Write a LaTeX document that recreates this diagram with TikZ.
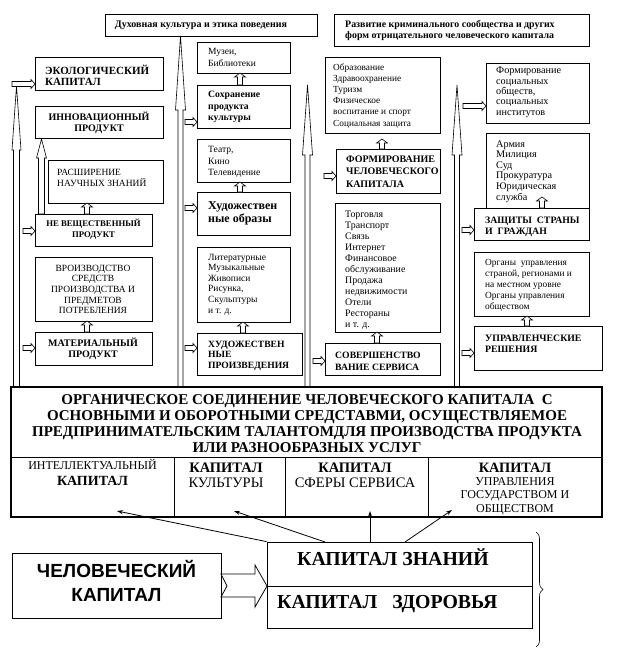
\documentclass[tikz,border=0pt]{standalone}
\usepackage{fontspec}
\setmainfont{Liberation Serif}
\newfontfamily\arialf{Liberation Sans}
\usetikzlibrary{fit,arrows.meta,decorations.pathreplacing}
\newcommand\fs[2]{\fontsize{#1}{#2}\selectfont}
\newcommand\mlL[1]{\begin{tabular}[t]{@{}l@{}}#1\end{tabular}}
\newcommand\mlC[1]{\begin{tabular}[t]{@{}c@{}}#1\end{tabular}}
% long hollow up arrow: cx, tip y, head base y, bottom y, head half width, shaft half width
\newcommand\longup[6]{\draw[blk] (#1,#2) -- ({#1+#5},#3) -- ({#1+#6},#3) -- ({#1+#6},#4) -- ({#1-#6},#4) -- ({#1-#6},#3) -- ({#1-#5},#3) -- cycle;}
% small up arrow: cx, bottom y, top y
\newcommand\upar[3]{\draw[blk] (#1,#3) -- ({#1+5.5},{#3+4}) -- ({#1+2.5},{#3+4}) -- ({#1+2.5},#2) -- ({#1-2.5},#2) -- ({#1-2.5},{#3+4}) -- ({#1-5.5},{#3+4}) -- cycle;}
% small right arrow: x tail, x tip, cy
\newcommand\rar[3]{\draw[blk] (#2,#3) -- ({#2-4},{#3-4.5}) -- ({#2-4},{#3-2.5}) -- (#1,{#3-2.5}) -- (#1,{#3+2.5}) -- ({#2-4},{#3+2.5}) -- ({#2-4},{#3+4.5}) -- cycle;}
\newcommand\bx[5]{\node[frame, fit={(#2,#3) (#4,#5)}] (#1) {};}
\begin{document}
\begin{tikzpicture}[x=1pt,y=-1pt,
  frame/.style={draw, line width=0.7pt, inner sep=0pt},
  blk/.style={draw, line width=0.6pt, fill=white, line join=miter},
  txl/.style={anchor=base west, inner sep=0pt},
  txc/.style={anchor=base, inner sep=0pt},
  con/.style={line width=0.8pt, -{Stealth[length=6pt,width=4pt]}},
]
\useasboundingbox (0,0) rectangle (627,650);
\fill[white] (0,0) rectangle (627,650);

% long block arrows
\longup{16.5}{86}{150}{387}{4.5}{3}
\longup{41.5}{139}{158}{214}{5}{3}
\longup{180.5}{36}{110}{387}{5}{2.5}
\longup{307.5}{85}{155}{387}{5}{2.5}
\longup{457}{85}{155}{387}{5}{2.5}

% top boxes
\bx{duh}{105}{14}{317}{36}
\bx{razv}{334}{14}{589}{46}
% left column
\bx{eco}{35}{57}{163}{90}
\bx{inno}{35}{106}{163}{138}
\bx{rasch}{48}{160}{163}{203}
\bx{nevesh}{35}{214}{152}{246}
\bx{proizv}{35}{257}{152}{321}
\bx{mater}{35}{332}{152}{365}
% second column
\bx{muzei}{197}{42}{290}{73}
\bx{sohr}{197}{85}{290}{128}
\bx{teatr}{197}{139}{290}{182}
\bx{hudobr}{197}{192}{290}{235}
\bx{lit}{197}{247}{290}{322}
\bx{hudpr}{197}{333}{302}{375}
% third column
\bx{obraz}{325}{57}{440}{133}
\bx{form}{336}{149}{440}{193}
\bx{torg}{335}{203}{440}{332}
\bx{sover}{325}{343}{440}{375}
% fourth column
\bx{soc}{486}{63}{589}{123}
\bx{armia}{486}{133}{589}{208}
\bx{zasch}{474}{208}{589}{240}
\bx{organy}{474}{252}{589}{316}
\bx{uprav}{474}{326}{602}{370}

% big box
\node[frame, line width=0.8pt, fit={(11,387) (602,457)}] (hdr) {};
\node[frame, line width=0.8pt, fit={(11,457) (174,517)}] (cell1) {};
\node[frame, line width=0.8pt, fit={(174,457) (285,517)}] (cell2) {};
\node[frame, line width=0.8pt, fit={(285,457) (428,517)}] (cell3) {};
\node[frame, line width=0.8pt, fit={(428,457) (602,517)}] (cell4) {};
\node[draw, line width=1.4pt, inner sep=0pt, fit={(11,387) (602,517)}] (big) {};

% texts: top
\node[txc, font=\fs{10}{11}\bfseries] (duhT) at (201,28) {Духовная культура и этика поведения};
\node[txl, font=\fs{9.9}{11}\bfseries] (razvT) at (345,28) {\mlL{Развитие криминального сообщества и других\\форм отрицательного человеческого капитала}};
% left column texts
\node[txl, font=\fs{11}{11}\bfseries] (ecoT) at (45,75) {\mlL{ЭКОЛОГИЧЕСКИЙ\\КАПИТАЛ}};
\node[txc, font=\fs{10}{11}\bfseries] (innoT) at (99,121) {\mlC{ИННОВАЦИОННЫЙ\\ПРОДУКТ}};
\node[txl, font=\fs{9.5}{11}] (raschT) at (57,175) {\mlL{РАСШИРЕНИЕ\\НАУЧНЫХ ЗНАНИЙ}};
\node[txc, font=\fs{8.7}{11}\bfseries] (neveshT) at (93.5,226) {\mlC{НЕ ВЕЩЕСТВЕННЫЙ\\ПРОДУКТ}};
\node[txc, font=\fs{9.5}{10.7}] (proizvT) at (93,271) {\mlC{ВРОИЗВОДСТВО\\СРЕДСТВ\\ПРОИЗВОДСТВА И\\ПРЕДМЕТОВ\\ПОТРЕБЛЕНИЯ}};
\node[txc, font=\fs{10}{11}\bfseries] (materT) at (93,346) {\mlC{МАТЕРИАЛЬНЫЙ\\ПРОДУКТ}};
% second column texts
\node[txl, font=\fs{9.5}{12}] (muzeiT) at (208,55) {\mlL{Музеи,\\Библиотеки}};
\node[txl, font=\fs{9.7}{11.5}\bfseries] (sohrT) at (208,98) {\mlL{Сохранение\\продукта\\культуры}};
\node[txl, font=\fs{9.6}{12}] (teatrT) at (208,152) {\mlL{Театр,\\Кино\\Телевидение}};
\node[txl, font=\fs{12}{13}\bfseries] (hudobrT) at (208,209) {\mlL{Художествен\\ные образы}};
\node[txl, font=\fs{9.5}{10.6}] (litT) at (208,260) {\mlL{Литературные\\Музыкальные\\Живописи\\Рисунка,\\Скульптуры\\и т. д.}};
\node[txl, font=\fs{9.6}{10.7}\bfseries] (hudprT) at (208,347) {\mlL{ХУДОЖЕСТВЕН\\НЫЕ\\ПРОИЗВЕДЕНИЯ}};
% third column texts
\node[txl, font=\fs{9.3}{11}] (obrazT) at (333,71) {\mlL{Образование\\Здравоохранение\\Туризм\\Физическое\\воспитание и спорт\\Социальная защита}};
\node[txl, font=\fs{10}{12.5}\bfseries] (formT) at (346,162) {\mlL{ФОРМИРОВАНИЕ\\ЧЕЛОВЕЧЕСКОГО\\КАПИТАЛА}};
\node[txl, font=\fs{9.9}{11}] (torgT) at (345,217) {\mlL{Торговля\\Транспорт\\Связь\\Интернет\\Финансовое\\обслуживание\\Продажа\\недвижимости\\Отели\\Рестораны\\и т. д.}};
\node[txl, font=\fs{9.7}{12}\bfseries] (soverT) at (335,358) {\mlL{СОВЕРШЕНСТВО\\ВАНИЕ СЕРВИСА}};
% fourth column texts
\node[txl, font=\fs{10.2}{10.3}] (socT) at (496,74) {\mlL{Формирование\\социальных\\обществ,\\социальных\\институтов}};
\node[txl, font=\fs{10.2}{10.6}] (armT) at (496,147) {\mlL{Армия\\Милиция\\Суд\\Прокуратура\\Юридическая\\служба}};
\node[txl, font=\fs{9.8}{11}\bfseries] (zaschT) at (485,223) {\mlL{ЗАЩИТЫ\ \ СТРАНЫ\\И\ \ ГРАЖДАН}};
\node[txl, font=\fs{9.4}{11}] (organyT) at (485,265) {\mlL{Органы\ \ управления\\страной, регионами и\\на местном уровне\\Органы управления\\обществом}};
\node[txl, font=\fs{9.8}{11}\bfseries] (upravT) at (485,341) {\mlL{УПРАВЛЕНЧЕСКИЕ\\РЕШЕНИЯ}};

% header texts
\node[txc, font=\fs{15}{16.2}\bfseries] (hdrT) at (307,404) {\mlC{ОРГАНИЧЕСКОЕ СОЕДИНЕНИЕ ЧЕЛОВЕЧЕСКОГО КАПИТАЛА\ \ С\\ОСНОВНЫМИ И ОБОРОТНЫМИ СРЕДСТАВМИ, ОСУЩЕСТВЛЯЕМОЕ\\ПРЕДПРИНИМАТЕЛЬСКИМ ТАЛАНТОМДЛЯ ПРОИЗВОДСТВА ПРОДУКТА\\ИЛИ РАЗНООБРАЗНЫХ УСЛУГ\hspace{34pt}}};
\node[txc, font=\fs{12}{16}] (c1T) at (92.5,469) {\mlC{ИНТЕЛЛЕКТУАЛЬНЫЙ\\\textbf{\fs{14}{16}КАПИТАЛ}}};
\node[txc, font=\fs{14.5}{15}] (c2T) at (226,472) {\mlC{\textbf{КАПИТАЛ}\\КУЛЬТУРЫ}};
\node[txc, font=\fs{14.5}{15}] (c3T) at (355,472) {\mlC{\textbf{КАПИТАЛ}\\СФЕРЫ СЕРВИСА}};
\node[txc, font=\fs{14.3}{15}\bfseries] (c4T) at (515,472) {КАПИТАЛ};
\node[txc, font=\fs{12}{13.5}] (c4U) at (515,485) {\mlC{УПРАВЛЕНИЯ\\ГОСУДАРСТВОМ И\\ОБЩЕСТВОМ}};

% small arrows
\rar{12}{35}{84}
\rar{23}{35}{231}
\rar{23}{35}{348}
\rar{185}{197}{122}
\rar{185}{197}{208}
\rar{185}{197}{348}
\rar{324}{336}{176}
\rar{313}{325}{361}
\rar{463}{486}{106}
\rar{462}{474}{230}
\rar{462}{474}{353}
\upar{87}{214}{203}
\upar{87}{332}{321}
\upar{240}{85}{73}
\upar{240}{192}{182}
\upar{243}{333}{322}
\upar{382}{149}{139}
\upar{377}{343}{332}
\upar{542}{208}{197}
\upar{527}{326}{316}

% bottom part
\node[frame, fit={(12,553) (221,618)}] (chel) {};
\node[txc, font=\arialf\fs{19}{24}\bfseries] (chelT) at (116.5,577) {\mlC{ЧЕЛОВЕЧЕСКИЙ\\КАПИТАЛ}};
\node[frame, fit={(267,542) (532,586)}] (kz) {};
\node[frame, fit={(267,586) (532,628)}] (kzd) {};
\node[txl, font=\fs{19.8}{20}\bfseries] (kzT) at (297,565) {КАПИТАЛ ЗНАНИЙ};
\node[txl, font=\fs{19.8}{20}\bfseries] (kzdT) at (277,608) {КАПИТАЛ\ \ \ ЗДОРОВЬЯ};
\draw[blk, line width=0.8pt] (221,574) -- (255,574) -- (255,565) -- (267,586) -- (255,607) -- (255,597) -- (221,597) -- (227,586) -- cycle;
\draw[line width=0.6pt, decorate, decoration={brace, amplitude=7pt}] (536,532) -- (536,647);

\coordinate (a1) at (117,511);
\coordinate (a2) at (234,511);
\coordinate (a3) at (370,511);
\coordinate (a4) at (452,510);
\coordinate (s2) at (325,542);
\coordinate (s3) at (370,542);
\coordinate (s4) at (405,542);
\draw[con] (kz.north west) -- (a1);
\draw[con] (s2) -- (a2);
\draw[con] (s3) -- (a3);
\draw[con] (s4) -- (a4);
\end{tikzpicture}
\end{document}
